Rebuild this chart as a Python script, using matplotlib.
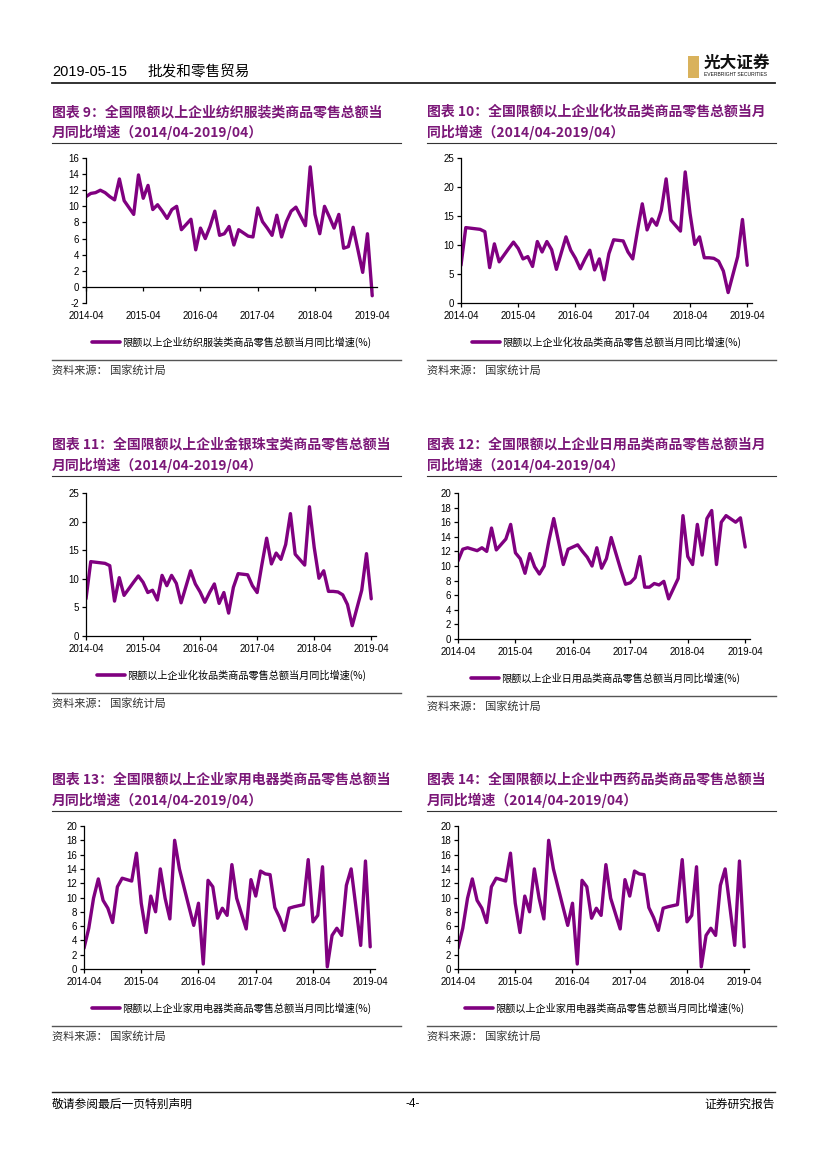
import numpy as np
import pandas as pd
import matplotlib
matplotlib.use("Agg")
import matplotlib.pyplot as plt
from matplotlib.lines import Line2D
from matplotlib.patches import Rectangle

plt.rcParams["axes.unicode_minus"] = False

W, H = 827, 1169
PURPLE = "#800080"
TITLE_C = "#7B1778"
CJK = ["Noto Sans CJK SC", "DejaVu Sans"]
LAT = ["Liberation Sans", "Noto Sans CJK SC", "DejaVu Sans"]

# monthly series, Jan is folded into Feb (Jan-Feb combined), so Jan is skipped
periods = pd.period_range("2014-04", "2019-04", freq="M")
periods = periods[periods.month != 1]
month_idx = np.array([(p.year - 2014) * 12 + p.month - 4 for p in periods])

tick_idx = [0, 12, 24, 36, 48, 60]
tick_labels = ["2014-04", "2015-04", "2016-04", "2017-04", "2018-04", "2019-04"]

textile = [11.2, 11.6, 11.7, 12.0, 11.7, 11.2, 10.8, 13.4, 10.7,
           9.0, 13.9, 11.0, 12.6, 9.6, 10.2, 9.4, 8.5, 9.6, 10.0, 7.1,
           8.4, 4.6, 7.3, 6.0, 7.5, 9.4, 6.4, 6.6, 7.5, 5.2, 7.1,
           6.3, 6.2, 9.8, 8.1, 7.3, 6.4, 8.9, 6.2, 8.1, 9.4, 9.9,
           7.6, 14.9, 9.0, 6.6, 10.0, 8.7, 7.3, 9.0, 4.8, 5.0, 7.4,
           1.8, 6.6, -1.1]

cosmetics = [6.5, 13.0, 12.9, 12.8, 12.7, 12.3, 6.1, 10.2, 7.1,
             9.4, 10.5, 9.4, 7.6, 8.0, 6.3, 10.6, 8.8, 10.6, 9.2, 5.8,
             11.4, 9.1, 7.7, 5.9, 7.6, 9.1, 5.7, 7.6, 4.0, 8.5, 10.9,
             10.7, 8.8, 7.6, 12.5, 17.1, 12.6, 14.5, 13.4, 16.0, 21.4, 14.3,
             12.4, 22.6, 15.5, 10.1, 11.4, 7.8, 7.8, 7.7, 7.2, 5.5, 1.8,
             8.0, 14.4, 6.5]

daily = [10.7, 12.3, 12.5, 12.3, 12.1, 12.5, 12.0, 15.2, 12.2,
         13.7, 15.7, 11.8, 11.0, 9.0, 11.7, 9.9, 8.9, 10.0, 13.5, 16.5,
         10.2, 12.3, 12.6, 12.9, 12.0, 11.2, 10.0, 12.5, 9.7, 11.0, 13.9,
         9.5, 7.5, 7.7, 8.4, 11.3, 7.1, 7.1, 7.6, 7.4, 7.9, 5.5,
         8.3, 16.9, 11.3, 10.2, 15.7, 11.5, 16.5, 17.6, 10.2, 16.0, 16.9,
         16.0, 16.6, 12.6]

appliance = [2.9, 5.7, 9.9, 12.6, 9.6, 8.5, 6.5, 11.5, 12.7,
             12.3, 16.2, 9.2, 5.1, 10.2, 8.0, 14.0, 9.9, 7.0, 18.0, 14.0,
             8.7, 6.1, 9.2, 0.7, 12.4, 11.5, 7.1, 8.5, 7.5, 14.6, 9.9,
             5.6, 12.5, 10.2, 13.7, 13.3, 13.2, 8.6, 7.2, 5.4, 8.5, 8.7,
             9.0, 15.3, 6.6, 7.5, 14.3, 0.3, 4.7, 5.7, 4.7, 11.7, 14.0,
             3.3, 15.1, 3.1]

fig = plt.figure(figsize=(W / 100, H / 100), dpi=100)


def fx(x):
    return x / W


def fy(y):
    return 1 - y / H


def hline(x0, x1, y, lw=0.8, color="#333333"):
    fig.add_artist(Line2D([fx(x0), fx(x1)], [fy(y), fy(y)],
                          transform=fig.transFigure, color=color, lw=lw))


def panel(col_x, row_y, box, title1, title2, values, label, yticks, leg_x):
    l, r, t, b = box
    fig.text(fx(col_x), fy(row_y), title1, fontsize=10, fontweight="bold",
             color=TITLE_C, family=CJK, va="center")
    fig.text(fx(col_x), fy(row_y + 20), title2, fontsize=10, fontweight="bold",
             color=TITLE_C, family=CJK, va="center")
    hline(col_x, col_x + 349, row_y + 31)

    ax = fig.add_axes([fx(l), fy(b), (r - l) / W, (b - t) / H])
    ax.plot(month_idx, values, color=PURPLE, lw=2.4, label=label,
            solid_joinstyle="round", solid_capstyle="round")
    ax.set_xlim(0, 61)
    ax.set_ylim(yticks[0], yticks[-1])
    ax.set_yticks(yticks)
    ax.set_xticks(tick_idx)
    ax.set_xticklabels(tick_labels)
    for s in ["top", "right"]:
        ax.spines[s].set_visible(False)
    for s in ["left", "bottom"]:
        ax.spines[s].set_linewidth(0.9)
    pad = 3
    if yticks[0] < 0:
        ax.spines["bottom"].set_position(("data", 0))
        pad = 3 + (0 - yticks[0]) / (yticks[-1] - yticks[0]) * (b - t) * 0.72
    ax.tick_params(axis="x", direction="out", length=3, width=0.9, pad=pad,
                   labelsize=7)
    ax.tick_params(axis="y", direction="out", length=3, width=0.9, pad=2,
                   labelsize=7)
    for tl in ax.get_xticklabels() + ax.get_yticklabels():
        tl.set_family(LAT)
    ax.patch.set_alpha(0)

    leg = ax.legend(loc="center left", bbox_to_anchor=(fx(leg_x), fy(b + 39)),
                    bbox_transform=fig.transFigure, frameon=False,
                    prop={"family": CJK, "size": 7.3}, handlelength=2.8,
                    handletextpad=0.15, borderpad=0, borderaxespad=0)
    leg.get_lines()[0].set_linewidth(2.6)

    hline(col_x, col_x + 349, b + 57, lw=1.0, color="#555555")
    fig.text(fx(col_x), fy(b + 67), "资料来源： 国家统计局", fontsize=8,
             color="#333333", family=CJK, va="center")
    return ax


ticks_tex = list(range(-2, 17, 2))
ticks_25 = list(range(0, 26, 5))
ticks_20 = list(range(0, 21, 2))

panel(52, 112, (86, 377, 158, 303),
      "图表 9：全国限额以上企业纺织服装类商品零售总额当", "月同比增速（2014/04-2019/04）",
      textile, "限额以上企业纺织服装类商品零售总额当月同比增速(%)", ticks_tex, 92)
panel(427, 112, (461, 752, 158, 303),
      "图表 10：全国限额以上企业化妆品类商品零售总额当月", "同比增速（2014/04-2019/04）",
      cosmetics, "限额以上企业化妆品类商品零售总额当月同比增速(%)", ticks_25, 472)
panel(52, 445, (86, 376, 493, 636),
      "图表 11：全国限额以上企业金银珠宝类商品零售总额当", "月同比增速（2014/04-2019/04）",
      cosmetics, "限额以上企业化妆品类商品零售总额当月同比增速(%)", ticks_25, 97)
panel(427, 445, (458, 750, 493, 639),
      "图表 12：全国限额以上企业日用品类商品零售总额当月", "同比增速（2014/04-2019/04）",
      daily, "限额以上企业日用品类商品零售总额当月同比增速(%)", ticks_20, 471)
panel(52, 780, (84, 375, 826, 969),
      "图表 13：全国限额以上企业家用电器类商品零售总额当", "月同比增速（2014/04-2019/04）",
      appliance, "限额以上企业家用电器类商品零售总额当月同比增速(%)", ticks_20, 92)
panel(427, 780, (458, 749, 826, 969),
      "图表 14：全国限额以上企业中西药品类商品零售总额当", "月同比增速（2014/04-2019/04）",
      appliance, "限额以上企业家用电器类商品零售总额当月同比增速(%)", ticks_20, 465)

# page header
fig.text(fx(52), fy(72), "2019-05-15", fontsize=10.5, family=LAT, va="center")
fig.text(fx(148), fy(72), "批发和零售贸易", fontsize=10.5, family=CJK, va="center")
hline(52, 775, 83, lw=1.3, color="#222222")
fig.add_artist(Rectangle((fx(688), fy(78)), 11 / W, 22 / H, transform=fig.transFigure,
                         facecolor="#D9B25C", edgecolor="none"))
fig.text(fx(704), fy(63), "光大证券", fontsize=12, fontweight="bold", family=CJK,
         va="center", color="#111111")
fig.text(fx(704), fy(74), "EVERBRIGHT SECURITIES", fontsize=3.6, family=LAT,
         va="center", color="#111111")

# page footer
hline(52, 775, 1092, lw=1.0, color="#222222")
fig.text(fx(52), fy(1104), "敬请参阅最后一页特别声明", fontsize=8.5, family=CJK, va="center")
fig.text(fx(413), fy(1104), "-4-", fontsize=8.5, family=LAT, va="center", ha="center")
fig.text(fx(775), fy(1104), "证券研究报告", fontsize=8.5, family=CJK, va="center", ha="right")

fig.savefig("out.png", dpi=100)
